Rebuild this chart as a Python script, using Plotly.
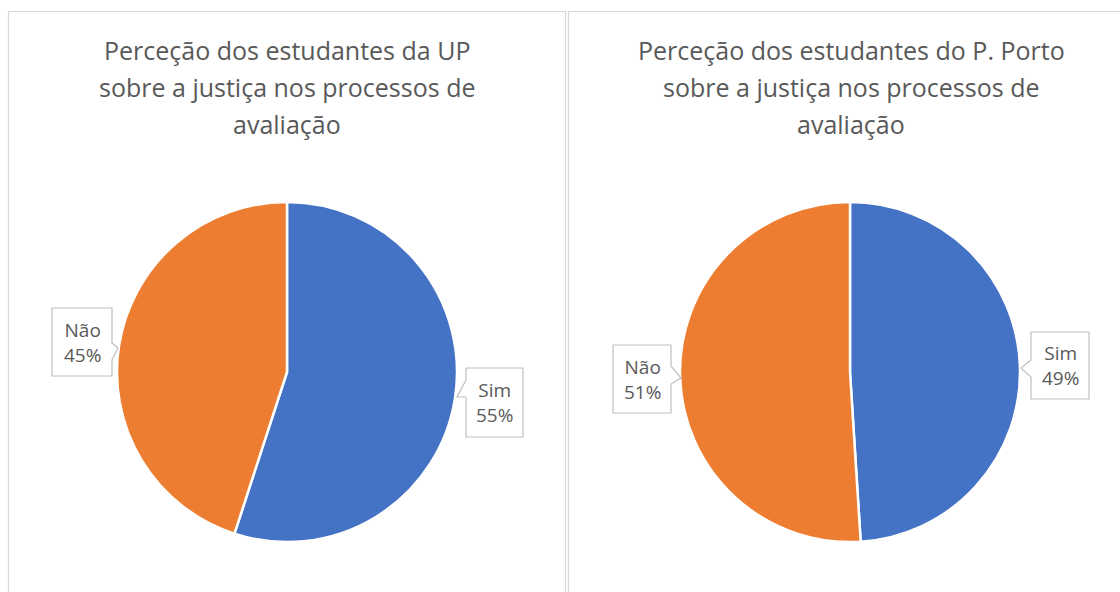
import plotly.graph_objects as go

W, H = 1120, 592

categories = ["Sim", "Não"]
up_values = [55, 45]
porto_values = [49, 51]
titles = [
    ["Perceção dos estudantes da UP", "sobre a justiça nos processos de", "avaliação"],
    ["Perceção dos estudantes do P. Porto", "sobre a justiça nos processos de", "avaliação"],
]
colors = ["#4472C4", "#ED7D31"]


def px(x):
    return x / W


def py(y):
    return 1 - y / H


fig = go.Figure()

pies = [(up_values, 287, 372, 170), (porto_values, 850, 372, 170)]
for vals, cx, cy, r in pies:
    fig.add_trace(go.Pie(
        labels=categories, values=vals, sort=False, direction="clockwise", rotation=0,
        marker=dict(colors=colors, line=dict(color="white", width=2.5)),
        textinfo="none", hoverinfo="label+percent",
        domain=dict(x=[px(cx - r), px(cx + r)], y=[py(cy + r), py(cy - r)]),
        showlegend=False,
    ))

shapes = []
border = "#D9D9D9"
# panel borders
shapes.append(dict(type="rect", xref="paper", yref="paper", x0=px(8.5), x1=px(565.5), y0=py(600), y1=py(11.5),
                   line=dict(color=border, width=1.2), fillcolor="rgba(0,0,0,0)"))
shapes.append(dict(type="rect", xref="paper", yref="paper", x0=px(568.5), x1=px(1130), y0=py(600), y1=py(11.5),
                   line=dict(color=border, width=1.2), fillcolor="rgba(0,0,0,0)"))


def path(points):
    s = "M " + " L ".join(f"{px(x):.5f},{py(y):.5f}" for x, y in points) + " Z"
    return s


# callout boxes (box + pointer) in pixel layout
callouts = [
    (52, 308, 112, 376, "right", 343, 360, 118, 348, f"{categories[1]}<br>{up_values[1]}%"),
    (466, 368, 523, 437, "left", 380, 397, 457, 397, f"{categories[0]}<br>{up_values[0]}%"),
    (613, 345, 671, 413, "right", 366, 384, 681, 378, f"{categories[1]}<br>{porto_values[1]}%"),
    (1031, 332, 1089, 399, "left", 360, 377, 1021, 368, f"{categories[0]}<br>{porto_values[0]}%"),
]

annotations = []
for x0, y0, x1, y1, side, ya, yb, tx, ty, txt in callouts:
    if side == "right":
        pts = [(x0, y0), (x1, y0), (x1, ya), (tx, ty), (x1, yb), (x1, y1), (x0, y1)]
    else:
        pts = [(x0, y0), (x1, y0), (x1, y1), (x0, y1), (x0, yb), (tx, ty), (x0, ya)]
    shapes.append(dict(type="path", xref="paper", yref="paper", path=path(pts),
                       line=dict(color="#BFBFBF", width=1.2), fillcolor="white"))
    annotations.append(dict(x=px((x0 + x1) / 2), y=py((y0 + y1) / 2), xref="paper", yref="paper",
                            text=txt, showarrow=False, xanchor="center", yanchor="middle",
                            font=dict(family="Open Sans", size=19, color="#595959")))

title_x = [287, 851]
line_y = [50, 87, 124]
for tlines, tx in zip(titles, title_x):
    for line, ly in zip(tlines, line_y):
        annotations.append(dict(x=px(tx), y=py(ly), xref="paper", yref="paper", text=line,
                                showarrow=False, xanchor="center", yanchor="middle",
                                font=dict(family="Open Sans", size=25, color="#595959")))

fig.update_layout(
    width=W, height=H, margin=dict(l=0, r=0, t=0, b=0),
    paper_bgcolor="white", plot_bgcolor="white",
    shapes=shapes, annotations=annotations,
)

fig.write_html("out.html", config={"displayModeBar": False},
               post_script="document.body.style.margin='0px';document.body.style.overflow='hidden';")
